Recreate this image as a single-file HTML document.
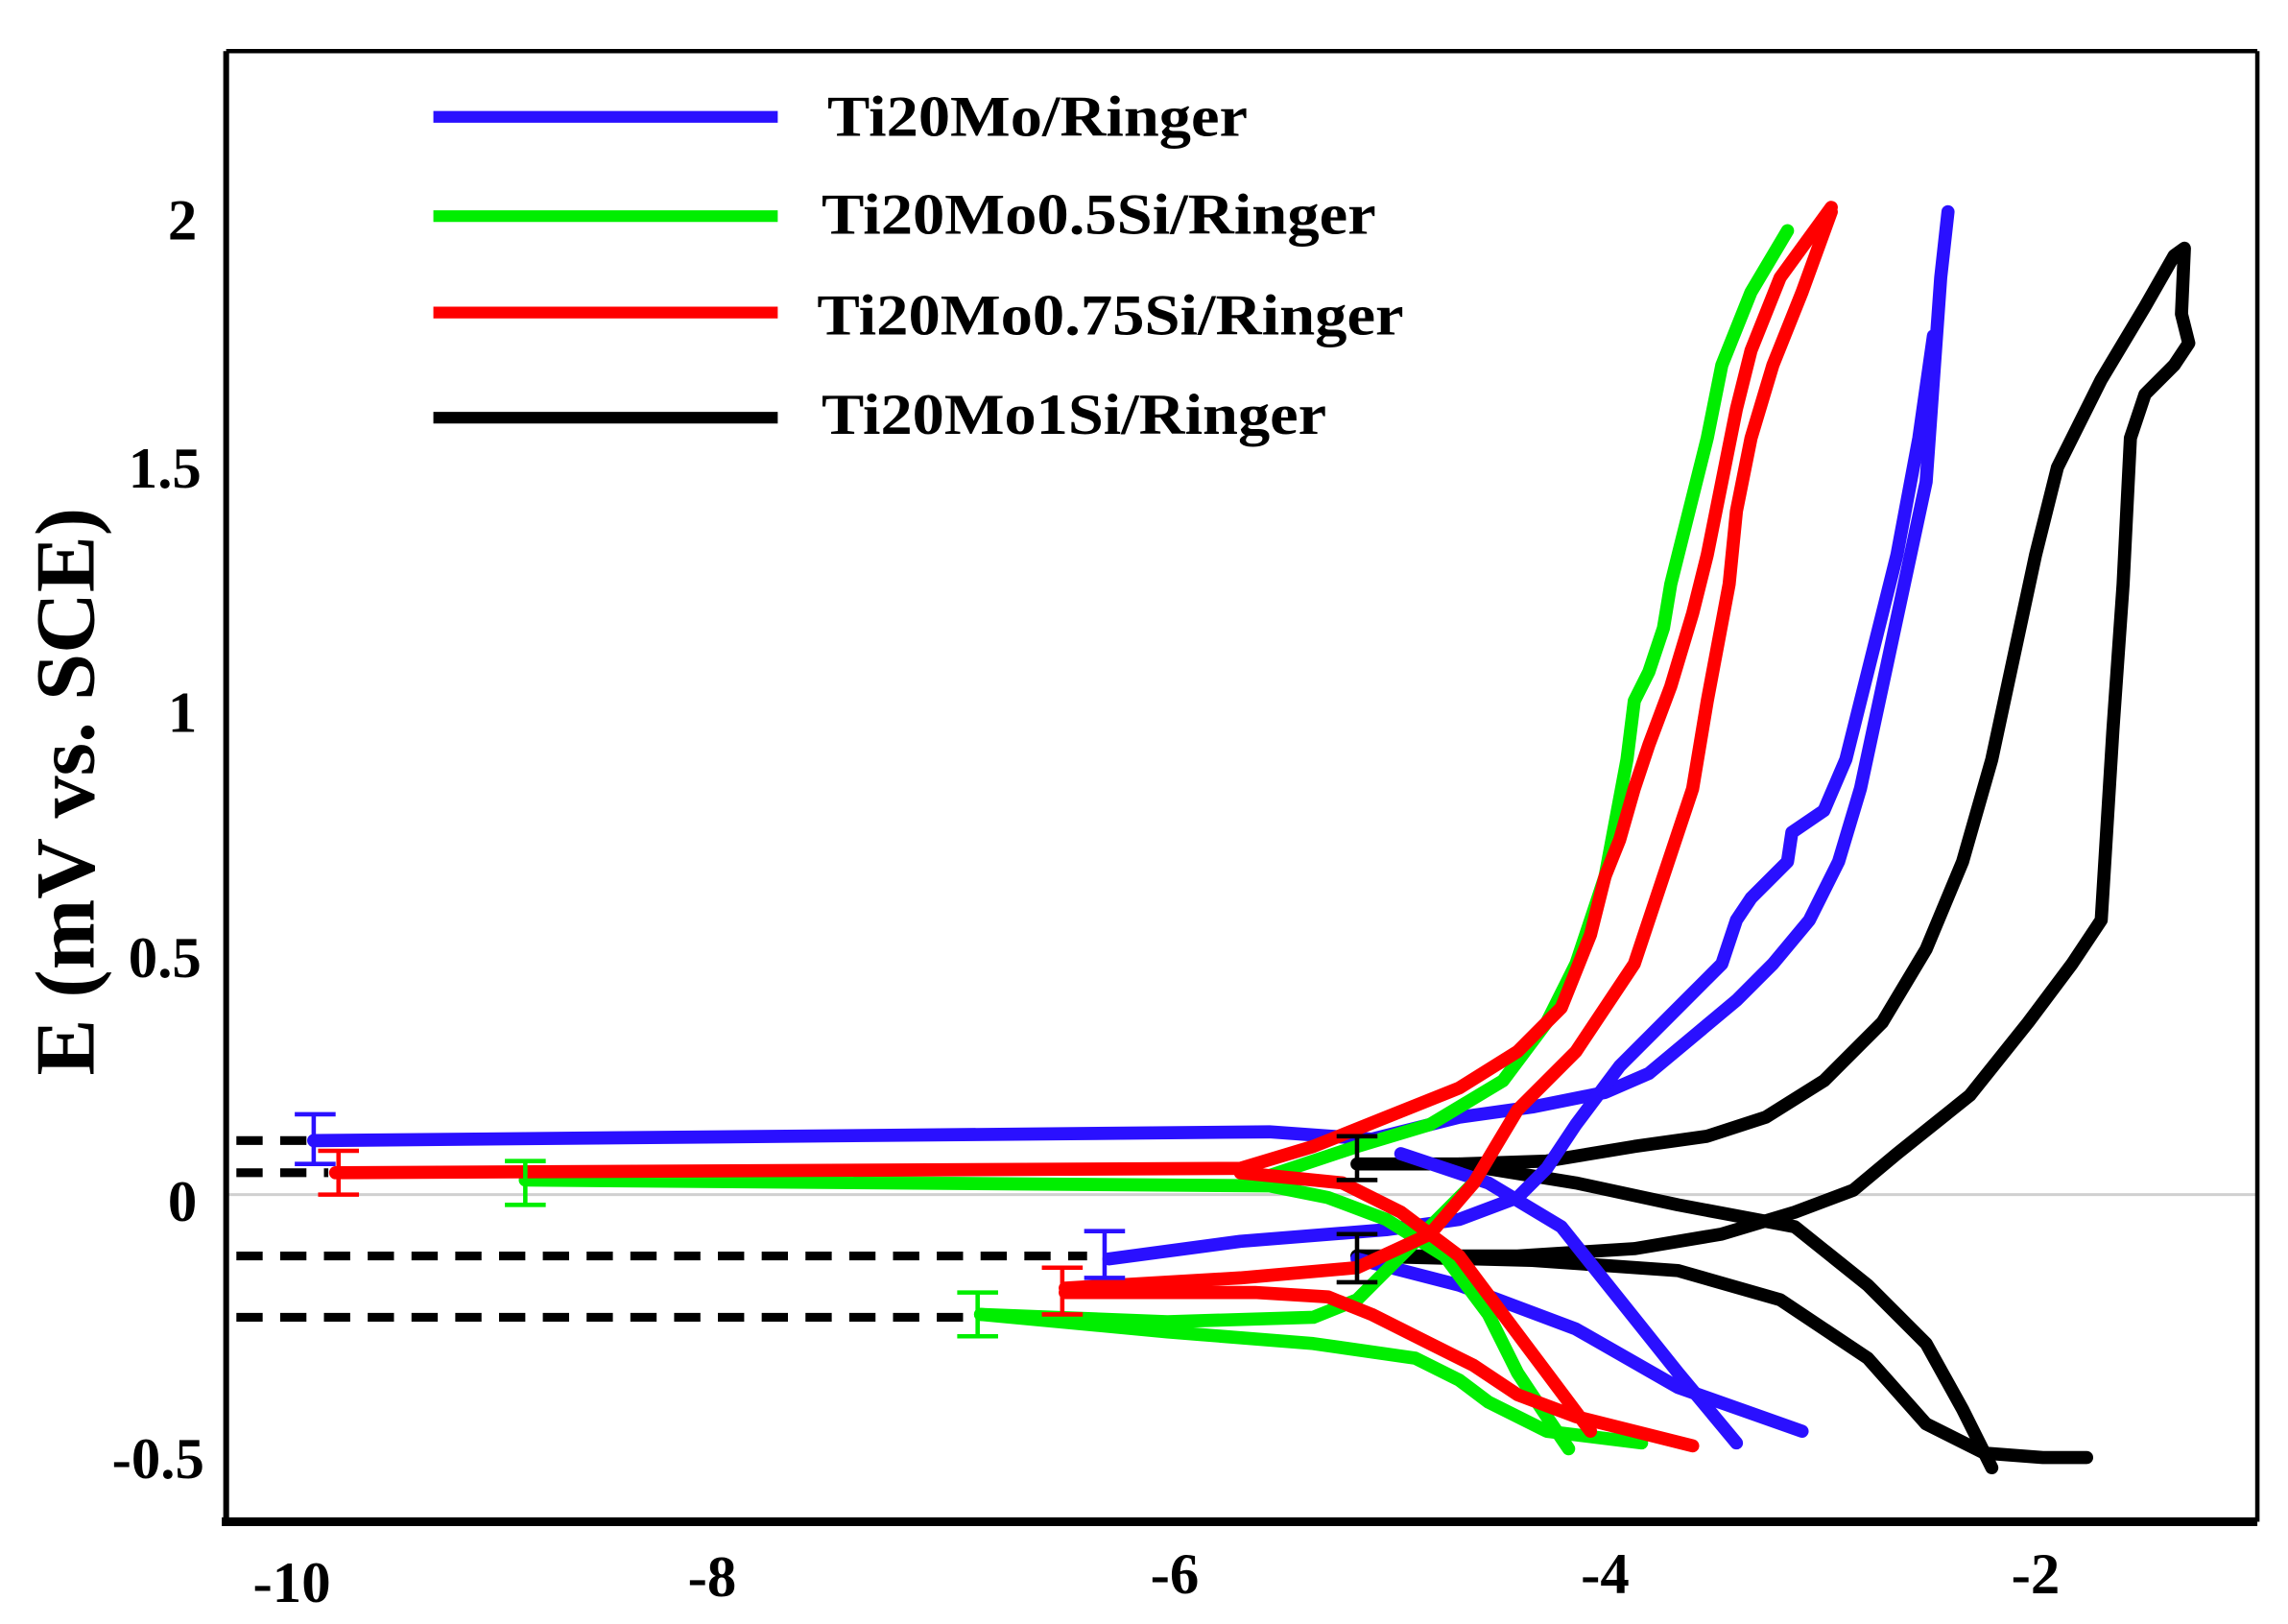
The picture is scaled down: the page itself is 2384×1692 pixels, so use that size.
<!DOCTYPE html>
<html><head><meta charset="utf-8"><style>
html,body{margin:0;padding:0;background:#fff;}
svg{display:block;}
text{font-family:"Liberation Serif",serif;font-weight:bold;}
</style></head><body>
<svg width="2384" height="1692" viewBox="0 0 1568 1112" preserveAspectRatio="none" xmlns="http://www.w3.org/2000/svg">
<rect x="0" y="0" width="1568" height="1112" fill="#fff"/>
<line x1="155" y1="818" x2="1547" y2="818" stroke="#d0d0d0" stroke-width="2"/>
<line x1="155" y1="35" x2="1547" y2="35" stroke="#000" stroke-width="3"/>
<line x1="1547" y1="35" x2="1547" y2="1042" stroke="#000" stroke-width="3"/>
<line x1="155" y1="35" x2="155" y2="1042" stroke="#000" stroke-width="4"/>
<line x1="152" y1="1042" x2="1547" y2="1042" stroke="#000" stroke-width="6"/>
<g font-size="40" text-anchor="end">
<text x="135" y="164">2</text>
<text x="138" y="334">1.5</text>
<text x="135" y="501">1</text>
<text x="138" y="669">0.5</text>
<text x="135" y="836">0</text>
<text x="140" y="1012">-0.5</text>
</g>
<g font-size="40" text-anchor="middle">
<text x="200" y="1097">-10</text>
<text x="488" y="1093">-8</text>
<text x="805" y="1091">-6</text>
<text x="1100" y="1091">-4</text>
<text x="1395" y="1091">-2</text>
</g>
<text transform="translate(64,542) rotate(-90)" font-size="58" text-anchor="middle">E (mV vs. SCE)</text>
<g stroke-width="8" fill="none">
<line x1="297" y1="80" x2="533" y2="80" stroke="#2a10ff"/>
<line x1="297" y1="148" x2="533" y2="148" stroke="#00ee00"/>
<line x1="297" y1="214" x2="533" y2="214" stroke="#ff0000"/>
<line x1="297" y1="286" x2="533" y2="286" stroke="#000"/>
</g>
<g font-size="40">
<text x="567" y="93" textLength="288" lengthAdjust="spacingAndGlyphs">Ti20Mo/Ringer</text>
<text x="563" y="160" textLength="380" lengthAdjust="spacingAndGlyphs">Ti20Mo0.5Si/Ringer</text>
<text x="560" y="229" textLength="402" lengthAdjust="spacingAndGlyphs">Ti20Mo0.75Si/Ringer</text>
<text x="563" y="297" textLength="346" lengthAdjust="spacingAndGlyphs">Ti20Mo1Si/Ringer</text>
</g>
<g stroke="#000" stroke-width="6" stroke-dasharray="18,12" fill="none">
<line x1="162" y1="781" x2="218" y2="781"/>
<line x1="162" y1="803" x2="225" y2="803"/>
<line x1="162" y1="860" x2="745" y2="860"/>
<line x1="162" y1="902" x2="672" y2="902"/>
</g>
<g fill="none" stroke-width="9" stroke-linejoin="round" stroke-linecap="round">
<g stroke="#000">
<path d="M930,797 L1000,797 L1060,795 L1120,785 L1170,778 L1210,765 L1250,740 L1290,700 L1320,650 L1345,590 L1365,520 L1380,450 L1395,380 L1410,320 L1440,260 L1470,210 L1490,175 L1497,170 L1495,215 L1500,235 L1490,250 L1470,270 L1460,300 L1455,400 L1448,500 L1440,630 L1420,660 L1390,700 L1350,750 L1300,790 L1270,815 L1230,830 L1180,845 L1120,855 L1040,860 L930,860"/>
<path d="M1000,797 L1080,810 L1150,825 L1230,840 L1280,880 L1320,920 L1345,965 L1365,1005"/>
<path d="M930,860 L1050,863 L1150,870 L1220,890 L1280,930 L1320,975 L1360,995 L1400,998 L1430,998"/>
</g>
<g stroke="#2a10ff">
<path d="M215,781 L870,775 L940,780 L1000,765 L1050,758 L1100,748 L1130,735 L1160,710 L1190,685 L1215,660 L1240,630 L1260,590 L1275,540 L1290,470 L1305,400 L1320,330 L1325,260 L1330,190 L1335,145"/>
<path d="M760,862 L850,850 L950,842 L1000,835 L1040,820 L1060,800 L1080,770 L1110,730 L1150,690 L1180,660 L1190,630 L1200,615 L1225,590 L1228,570 L1250,555 L1265,520 L1280,460 L1300,380 L1315,300 L1325,230"/>
<path d="M960,790 L1020,810 L1070,840 L1110,890 L1150,940 L1190,988"/>
<path d="M930,862 L1000,880 L1080,910 L1150,950 L1235,980"/>
</g>
<g stroke="#00ee00">
<path d="M360,808 L870,812 L910,820 L950,835 L990,860 L1020,900 L1040,940 L1060,970 L1075,992"/>
<path d="M870,805 L930,785 L980,770 L1030,740 L1060,700 L1080,660 L1100,600 L1115,520 L1120,480 L1130,460 L1140,430 L1145,400 L1150,380 L1160,340 L1170,300 L1180,250 L1200,200 L1225,158"/>
<path d="M672,900 L800,905 L900,902 L930,890 L960,860 L990,830 L1010,810"/>
<path d="M672,900 L800,912 L900,920 L970,930 L1000,945 L1020,960 L1060,980 L1125,988"/>
</g>
<g stroke="#ff0000">
<path d="M230,803 L850,800 L900,785 L950,765 L1000,745 L1040,720 L1070,690 L1090,640 L1100,600 L1110,575 L1120,540 L1130,510 L1145,470 L1160,420 L1170,380 L1180,330 L1190,280 L1200,240 L1220,190 L1255,142"/>
<path d="M730,882 L850,875 L930,868 L980,845 L1010,810 L1040,760 L1080,720 L1120,660 L1140,600 L1160,540 L1170,480 L1185,400 L1190,350 L1200,300 L1215,250 L1235,200 L1255,145"/>
<path d="M850,803 L920,810 L960,830 L1000,860 L1030,900 L1060,940 L1090,980"/>
<path d="M730,885 L860,885 L910,888 L940,900 L980,920 L1010,935 L1040,955 L1080,970 L1160,990"/>
</g>
</g>
<g stroke-width="3" fill="none">
<path stroke="#2a10ff" d="M215,763V797M202,763H230M202,797H230"/>
<path stroke="#ff0000" d="M232,788V818M218,788H246M218,818H246"/>
<path stroke="#00ee00" d="M360,795V825M346,795H374M346,825H374"/>
<path stroke="#2a10ff" d="M757,843V875M743,843H771M743,875H771"/>
<path stroke="#ff0000" d="M728,868V900M714,868H742M714,900H742"/>
<path stroke="#00ee00" d="M670,885V915M656,885H684M656,915H684"/>
<path stroke="#000" d="M930,778V808M916,778H944M916,808H944"/>
<path stroke="#000" d="M930,845V878M916,845H944M916,878H944"/>
</g>
</svg>
</body></html>
